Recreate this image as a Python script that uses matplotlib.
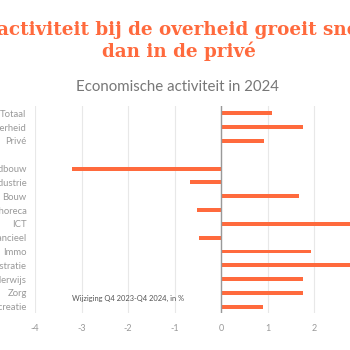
import matplotlib
matplotlib.use("Agg")
import matplotlib.pyplot as plt
import numpy as np

categories = ["Totaal", "Overheid", "Privé", "", "Landbouw", "Industrie", "Bouw",
              "Handel&horeca", "ICT", "Financieel", "Immo", "Administratie",
              "Onderwijs", "Zorg", "Recreatie"]
values = [1.09, 1.75, 0.92, np.nan, -3.2, -0.67, 1.67,
          -0.51, 3.3, -0.47, 1.93, 3.0,
          1.76, 1.76, 0.89]
x_ticks = [-4, -3, -2, -1, 0, 1, 2, 3, 4]

title = "De activiteit bij de overheid groeit sneller\ndan in de privé"
subtitle = "Economische activiteit in 2024"
note = "Wijziging Q4 2023-Q4 2024, in %"

orange = "#FF6A3D"
label_grey = "#999999"

fig = plt.figure(figsize=(3.5, 3.5), dpi=100)
ax = fig.add_axes([0.1, 0.1057, 1.0634, 0.5914])

pos = np.arange(len(categories))
ax.barh(pos, values, height=0.28, color=orange, zorder=3)

ax.set_xlim(-4, 4)
ax.set_ylim(14.45, -0.53)
ax.set_xticks(x_ticks)
ax.set_xticklabels([str(t) for t in x_ticks])
ax.set_yticks(pos)
ax.set_yticklabels(categories)
ax.grid(axis="x", color="#E8E8E8", linewidth=0.8, zorder=0)
ax.axvline(0, color="#999999", linewidth=1.0, zorder=4)
for spine in ax.spines.values():
    spine.set_visible(False)
ax.tick_params(length=0, labelsize=6.5, labelcolor=label_grey, pad=6)
ax.tick_params(axis="y", labelsize=6.8)
for lbl in ax.get_xticklabels() + ax.get_yticklabels():
    lbl.set_fontfamily("Lato")
ax.tick_params(axis="x", pad=8)

ax.text(-3.2, 13.4, note, fontsize=5.4, color="#555555", family="Lato",
        ha="left", va="center", zorder=5)

fig.text(0.51, 0.883, title, fontsize=13.2, color=orange, family="DejaVu Serif",
         fontweight="bold", ha="center", va="center", linespacing=1.2)
fig.text(0.508, 0.752, subtitle, fontsize=10.8, color="#777777", family="Lato",
         ha="center", va="center")

fig.savefig("out.png", dpi=100)
